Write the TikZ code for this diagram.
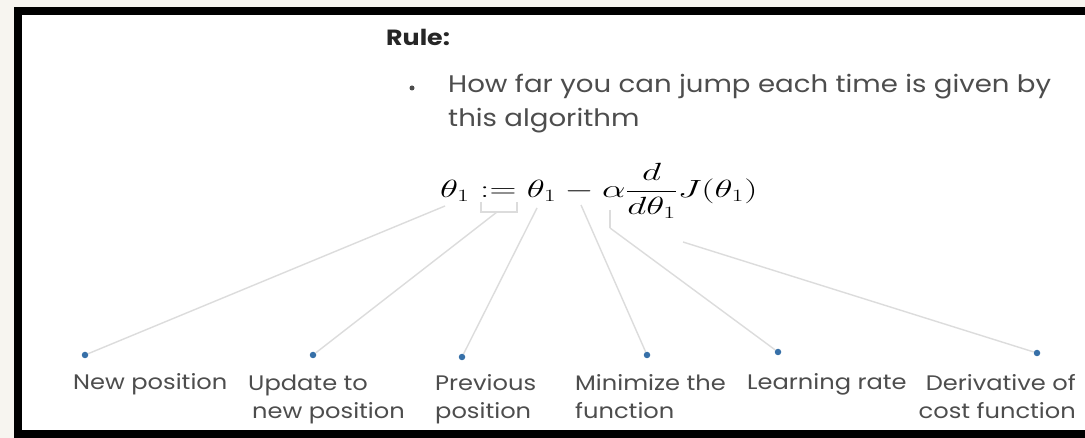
\documentclass[tikz,border=0pt]{standalone}
\usepackage[no-math]{fontspec}
\setmainfont[FakeStretch=1.15]{Poppins}
\usepackage{amsmath}
\usepackage{graphicx}
\usepackage{xcolor}
\usetikzlibrary{positioning}
\definecolor{paper}{HTML}{F7F5F0}
\definecolor{ink}{HTML}{4D4D4D}
\definecolor{leadgray}{HTML}{DCDCDC}
\definecolor{pinblue}{HTML}{3770A8}

\begin{document}
\begin{tikzpicture}[
	x=1pt,y=-1pt,
	txt/.style={inner sep=0pt,text=ink,font=\fontsize{24}{34}\selectfont},
	term/.style={inner sep=0pt,text=ink,font=\fontsize{21}{28}\selectfont},
	pin/.style={circle,fill=pinblue,inner sep=0pt,minimum size=6.5pt},
	link/.style={draw=leadgray,line width=1.4pt}
	]
	
	\useasboundingbox (0,0) rectangle (1085,438);
	\fill[paper] (-5,-5) rectangle (1095,443);
	\fill[white] (22,15) rectangle (1095,430);
	\fill[black] (14,7) rectangle (22,443);
	\fill[black] (22,7) rectangle (1095,15);
	\fill[black] (22,430) rectangle (1095,443);
	
	\node[txt,anchor=base west,text=black!85,font=\fontsize{22}{26}\selectfont\bfseries] (rule) at (386,46) {Rule:};
	\node[circle,fill=ink,inner sep=0pt,minimum size=5pt] (bullet) at (412,88) {};
	\node[txt,anchor=base west] (line1) at (448,93) {How far you can jump each time is given by};
	\node[txt,anchor=base west] (line2) at (448,127) {this algorithm};
	\node[inner sep=0pt,anchor=west,font=\fontsize{23}{28}\selectfont] (update) at (440,191)
	{\scalebox{1.5}[1]{$\theta_1 := \theta_1 - \alpha\dfrac{d}{d\theta_1}J(\theta_1)$}};
	
	\coordinate (new) at (445,206);
	\coordinate (assign) at (497,212);
	\coordinate (prev) at (537,208);
	\coordinate (minus) at (581,205);
	\coordinate (alpha) at (610,228);
	\coordinate (deriv) at (683,242);
	
	\draw[link] (481,202) |- (assign) -| (517,202);
	\draw[link] (610,210) -- (alpha);
	
	\node[pin] (p1) at (85,355) {};
	\node[pin] (p2) at (313,355) {};
	\node[pin] (p3) at (462,357) {};
	\node[pin] (p4) at (647,355) {};
	\node[pin] (p5) at (778,352) {};
	\node[pin] (p6) at (1037,353) {};
	
	\draw[link] (new)--(p1);
	\draw[link] (assign)--(p2);
	\draw[link] (prev)--(p3);
	\draw[link] (minus)--(p4);
	\draw[link] (alpha)--(p5);
	\draw[link] (deriv)--(p6);
	
	\node[term,anchor=base west] (t1) at (73,390) {New position};
	\node[term,anchor=base west,align=left] (t2) at (248,418) {Update to\\\hspace*{4pt}new position};
	\node[term,anchor=base west,align=left] (t3) at (435,418) {Previous\\position};
	\node[term,anchor=base west,align=left] (t4) at (575,418) {Minimize the\\function};
	\node[term,anchor=base west] (t5) at (747,390) {Learning rate};
	\node[term,anchor=base east,align=right] (t6) at (1076,418) {Derivative of\\cost function};
	
\end{tikzpicture}
\end{document}
